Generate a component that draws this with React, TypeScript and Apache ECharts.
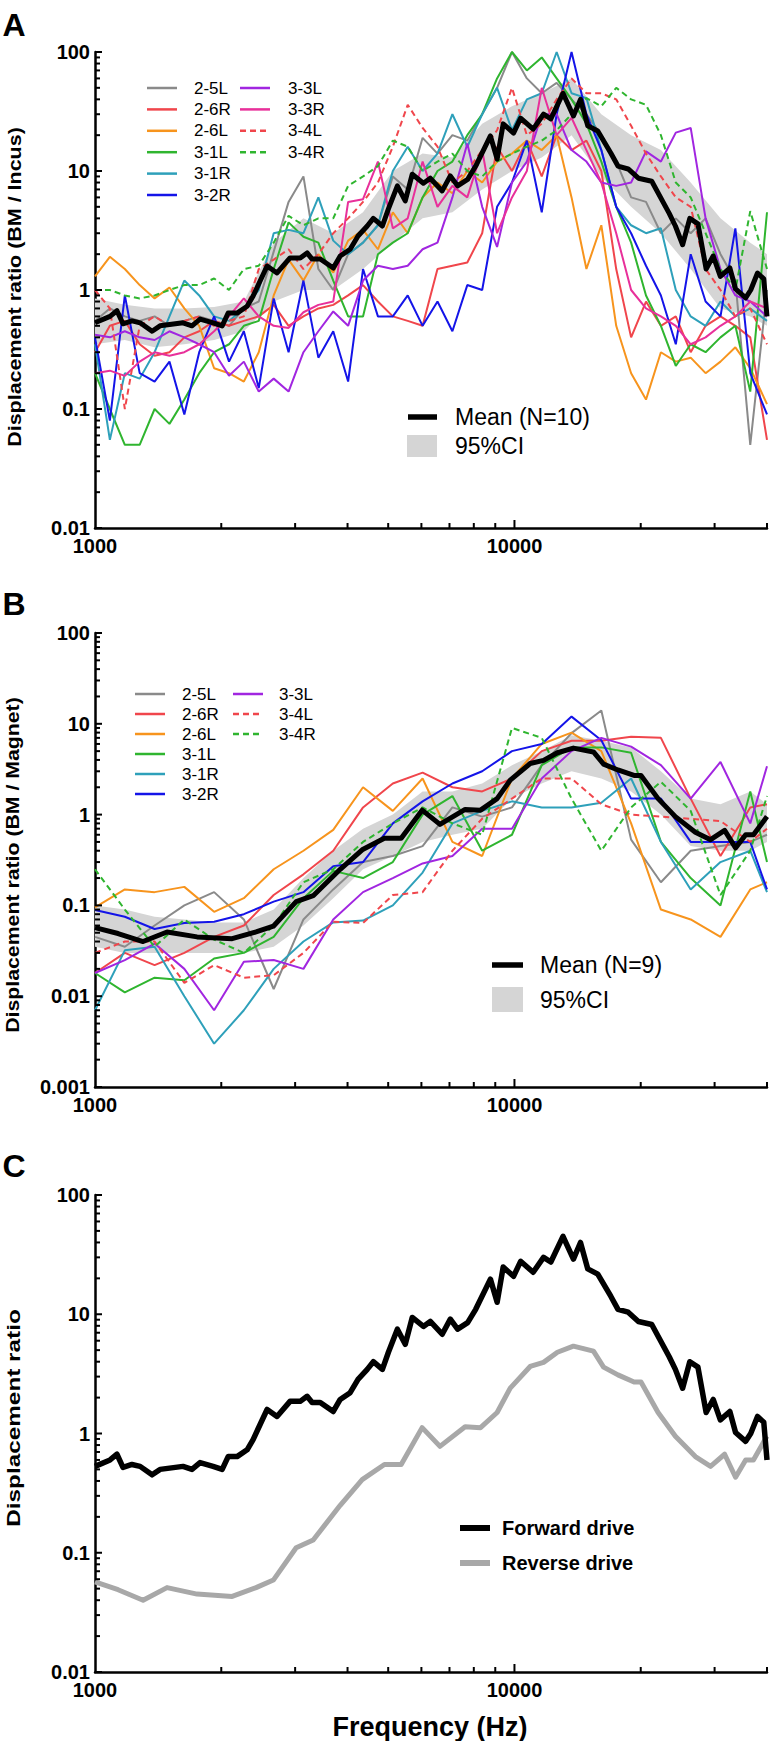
import React, { useEffect, useRef } from 'react';
import * as echarts from 'echarts';

// ---------- DATA ----------
const freqA = [1000,1085,1178,1278,1387,1505,1633,1772,1923,2087,2264,2457,2667,2894,3140,3408,3698,4013,4355,4726,5129,5566,6040,6554,7113,7719,8376,9090,9864,10704,11616,12606,13680,14845,16110,17482,18972,20588,22342,24245,26311,28552,30985,33624,36489,40000];
const freqB = [1000,1178,1387,1633,1923,2264,2667,3140,3698,4355,5129,6040,7113,8376,9864,11616,13680,16110,18972,22342,26311,30985,36489,40000];

const specimenNames = ['2-5L','2-6R','2-6L','3-1L','3-1R','3-2R','3-3L','3-3R','3-4L','3-4R'];

// Panel A: BM / Incus
const a25L = [0.55,0.7,0.6,0.55,0.6,0.5,0.55,0.6,0.55,0.5,0.7,0.8,2.1,5.5,9,1.5,1.0,2.0,2.5,3.5,9,7,19,14,20,18,30,50,100,60,45,55,40,30,20,12,6,5.5,3,4,3,4,2,1.2,0.05,1.0];
const a26R = [0.3,0.5,0.55,0.35,0.28,0.3,0.4,0.45,0.55,0.5,0.55,0.6,0.75,0.5,0.6,0.7,0.75,0.9,1.1,0.8,0.6,0.55,0.5,1.5,1.6,1.7,3,16,10,18,9,20,15,18,10,1.5,0.4,0.8,0.5,0.6,0.3,0.5,0.6,0.5,0.4,0.055];
const a26L = [1.3,1.9,1.5,1.1,0.85,1.05,0.7,0.5,0.22,0.2,0.17,0.3,0.9,1.8,1.2,2.0,1.4,2.6,3.2,2.2,4.5,3.0,6.0,8.0,6.5,10,8,12,14,18,15,20,6,1.5,3.5,0.5,0.2,0.12,0.3,0.25,0.27,0.2,0.25,0.33,0.22,0.11];
const a31L = [0.2,0.1,0.05,0.05,0.1,0.075,0.12,0.2,0.3,0.35,0.5,0.55,1.5,3.7,2.8,2.5,1.2,0.6,0.6,2.0,2.5,3,6,10,12,20,30,60,100,70,90,60,40,25,12,5,2.5,0.9,0.5,0.23,0.35,0.3,0.4,0.5,0.14,4.5];
const a31R = [0.35,0.055,0.2,0.18,0.3,0.6,1.2,0.9,0.6,0.55,0.7,1.0,3.0,3.2,3.0,6.0,2.6,2.0,2.5,3.5,10,16,10,14,30,16,30,50,22,40,45,100,45,41,15,5,3.5,3,3.3,1.0,0.6,0.5,0.8,0.6,0.7,0.55];
const a32R = [0.4,0.08,0.9,0.2,0.17,0.25,0.09,0.3,0.6,0.25,0.45,0.15,0.85,0.3,1.2,0.27,0.45,0.17,1.5,0.6,0.6,0.9,0.5,0.8,0.45,1.1,1,5,8,18,4.5,30,100,30,15,5,3,1.6,0.9,0.35,2,0.8,0.6,3.3,0.2,0.09];
const a33L = [0.42,0.4,0.45,0.4,0.38,0.45,0.4,0.35,0.3,0.19,0.25,0.14,0.18,0.14,0.3,0.45,0.66,0.5,1.2,1.6,1.5,1.6,2.2,2.5,6,17,5,2.3,8,12,30,30,15,12,8,7.5,8,14.6,12,21,23,4,1.5,0.9,0.8,0.6];
const a33R = [0.2,0.21,0.19,0.25,0.3,0.28,0.3,0.35,0.45,0.6,0.85,0.6,0.5,0.48,0.65,0.75,0.8,5.5,5.8,12,3.3,4,12,5,7.5,6,15,3,6,10,50,20,28,15,8,3,1.0,0.7,0.6,0.5,0.35,0.4,0.5,0.6,0.8,0.7];
const a34L = [1.0,0.7,0.1,0.5,0.6,0.5,0.55,0.6,0.5,0.55,0.6,1.5,1.8,2.2,1.5,2.0,3,4,5.5,8,16,36,23,16,8,10,15,22,50,20,25,40,60,45,45,40,24,14,9,6,5,1.5,1.0,0.6,0.7,0.35];
const a34R = [1.0,1.0,0.9,0.85,0.9,1.0,1.1,1.1,1.25,1.0,1.5,1.6,2.5,4.2,3.5,4,4,7.5,9,11,18,16,10,12,14,10,9,12,14,16,18,22,30,41,35,50,40,36,20,8,6,3,1.5,1.0,4.6,1.5];
const seriesA = [a25L,a26R,a26L,a31L,a31R,a32R,a33L,a33R,a34L,a34R];

// Panel B: BM / Magnet (no 3-3R)
const b25L = [0.045,0.035,0.06,0.1,0.14,0.07,0.012,0.07,0.15,0.3,0.35,0.45,1.2,0.95,1.2,3.5,7.9,14,0.53,0.18,0.4,0.45,0.5,0.6];
const b26R = [0.018,0.03,0.022,0.03,0.045,0.06,0.13,0.22,0.4,1.2,2.2,2.9,2.0,1.8,2.5,5,6.5,6.5,7.2,7.0,1.5,0.35,1.2,1.3];
const b26L = [0.095,0.15,0.14,0.16,0.085,0.12,0.25,0.4,0.68,2.0,1.1,2.5,0.5,0.35,2.5,6,8,5,0.8,0.09,0.07,0.045,0.15,0.18];
const b31L = [0.018,0.011,0.016,0.015,0.026,0.03,0.045,0.12,0.24,0.2,0.3,1.0,1.6,0.4,0.6,3.5,5.5,5.5,4.8,0.5,0.2,0.1,1.8,0.3];
const b31R = [0.007,0.032,0.035,0.01,0.003,0.007,0.02,0.04,0.065,0.068,0.1,0.23,0.8,1.1,1.4,1.2,1.2,1.35,2.5,0.5,0.15,0.3,0.4,0.14];
const b32R = [0.089,0.075,0.055,0.064,0.066,0.08,0.11,0.14,0.27,0.3,0.8,1.4,2.2,3,5,6,12,6.6,1.5,1.5,0.5,0.5,0.5,0.15];
const b33L = [0.018,0.025,0.038,0.02,0.007,0.024,0.025,0.02,0.07,0.14,0.2,0.29,0.35,0.7,0.7,2.5,5,7,5.6,3.5,1.5,3.8,0.8,3.4];
const b34L = [0.03,0.04,0.04,0.014,0.022,0.016,0.017,0.03,0.066,0.064,0.13,0.14,0.4,0.9,1.5,2.5,2.5,1.3,1.0,0.95,0.9,0.85,0.5,0.7];
const b34R = [0.25,0.09,0.035,0.07,0.042,0.03,0.06,0.18,0.25,0.5,0.8,1.2,0.8,0.6,9,7,1.5,0.4,1.2,2.3,1.1,0.13,0.4,1.6];
const seriesB = [b25L,b26R,b26L,b31L,b31R,b32R,b33L,null,b34L,b34R];

// Means (forward = A mean, reverse = B mean)
const fwdFreq = [1000,1086,1128,1166,1225,1281,1368,1429,1621,1703,1780,1912,2010,2077,2181,2305,2382,2572,2716,2917,3085,3204,3293,3443,3699,3842,4058,4237,4457,4608,4843,5006,5258,5491,5706,6066,6300,6725,7032,7319,7734,8083,8763,9093,9400,9950,10344,11082,11730,12210,13053,13822,14368,14955,15798,16980,17650,18668,19746,21247,23384,24190,25170,26180,27380,28640,29770,30960,32620,33660,35580,36580,37970,39300,40000];
const fwdVal = [0.53,0.60,0.67,0.52,0.55,0.53,0.45,0.50,0.53,0.50,0.57,0.53,0.50,0.64,0.64,0.73,0.89,1.59,1.39,1.86,1.86,2.05,1.82,1.82,1.53,1.93,2.2,2.84,3.45,4.0,3.45,4.8,7.5,5.6,9.4,7.9,8.7,6.8,9.1,7.5,8.5,11,19.7,12.6,24.9,20.8,27.8,22.5,30,27.4,45,29,40,24,21.7,14.1,11,10.4,8.7,8.2,4.4,3.45,2.4,4.0,3.6,1.5,1.93,1.3,1.53,1.02,0.86,1.0,1.39,1.24,0.6];
const revFreq = [1000,1135,1302,1485,1751,2123,2421,2662,3017,3313,3842,4335,4897,5370,6024,6644,7628,8301,9093,9770,10900,11730,12660,13820,15430,16310,17650,19280,20030,22000,24190,26990,29340,31700,33660,35580,37130,40000];
const revVal = [0.057,0.049,0.040,0.051,0.045,0.043,0.051,0.059,0.11,0.128,0.25,0.41,0.55,0.55,1.12,0.78,1.14,1.12,1.5,2.4,3.65,3.95,4.8,5.4,4.9,3.6,3.1,2.7,2.7,1.5,0.95,0.64,0.53,0.67,0.43,0.6,0.6,0.95];

// 95% CI bands (at freqB)
const ciAlo = [0.35,0.38,0.33,0.35,0.38,0.45,0.8,1.0,1.0,1.5,2.5,4,4.5,7,10,13,20,9,5,3,1.5,0.7,0.6,0.5];
const ciAhi = [0.85,0.75,0.7,0.7,0.72,0.8,2.5,4.0,3.0,4.5,10,14,13,25,35,45,60,30,20,15,8,4,2.5,2];
const ciBlo = [0.035,0.03,0.03,0.03,0.03,0.03,0.035,0.06,0.12,0.25,0.35,0.5,0.6,0.7,1.5,2.2,3,2.5,1.8,1.0,0.45,0.4,0.4,0.5];
const ciBhi = [0.1,0.09,0.075,0.07,0.065,0.065,0.09,0.2,0.4,0.7,1.0,1.8,1.8,2.2,3.5,5,7.5,6.5,5.5,3,1.5,1.3,1.8,1.3];

const xRange = [1000, 40000];
const yRanges = [[0.01, 100], [0.001, 100], [0.01, 100]];

// ---------- STYLE ----------
const FONT = '"Liberation Sans", Arial, Helvetica, sans-serif';
const colors = ['#8a8a8a','#f0464c','#f7941d','#2fb52f','#2ea0ba','#1414e8','#a126e0','#e8309a','#f0464c','#2fb52f'];
const dashed = [false,false,false,false,false,false,false,false,true,true];
const grids = [
  { left: 95, top: 52, width: 672, height: 476 },
  { left: 95, top: 633, width: 672, height: 454 },
  { left: 95, top: 1195, width: 672, height: 477 },
];

function fmtPow(v: number): string {
  const l = Math.log10(v);
  const r = Math.round(l);
  if (Math.abs(l - r) > 1e-6) return '';
  return r >= 0 ? String(Math.pow(10, r)) : Math.pow(10, r).toFixed(-r);
}

function tickValues(lo: number, hi: number) {
  const out: number[][] = [];
  for (let p = Math.floor(Math.log10(lo)); p <= Math.ceil(Math.log10(hi)); p++) {
    for (let m = 1; m <= 9; m++) {
      const v = Number((m * Math.pow(10, p)).toPrecision(6));
      if (v >= lo * 0.999999 && v <= hi * 1.000001) out.push([v, m === 1 ? 1 : 0]);
    }
  }
  return out;
}

function buildOption() {
  const xAxis: any[] = [];
  const yAxis: any[] = [];
  const series: any[] = [];
  grids.forEach((g, gi) => {
    xAxis.push({
      type: 'log', logBase: 10, gridIndex: gi, min: xRange[0], max: xRange[1],
      axisLine: { show: true, lineStyle: { color: '#000', width: 2.5 } },
      axisTick: { show: false }, splitLine: { show: false }, minorTick: { show: false },
      axisLabel: { formatter: (v: number) => fmtPow(v), fontSize: 20, lineHeight: 16, fontWeight: 'bold', color: '#000', fontFamily: FONT, margin: 10, showMaxLabel: false },
    });
    yAxis.push({
      type: 'log', logBase: 10, gridIndex: gi, min: yRanges[gi][0], max: yRanges[gi][1],
      axisLine: { show: true, lineStyle: { color: '#000', width: 2.5 } },
      axisTick: { show: false }, splitLine: { show: false },
      axisLabel: { formatter: (v: number) => fmtPow(v), fontSize: 20, lineHeight: 16, fontWeight: 'bold', color: '#000', fontFamily: FONT, margin: 5 },
    });
    // custom ticks (both inward)
    series.push({
      type: 'custom', xAxisIndex: gi, yAxisIndex: gi, silent: true, clip: false, z: 10,
      data: tickValues(xRange[0], xRange[1]).filter(t => t[0] > xRange[0]).map(t => [t[0], yRanges[gi][0], t[1]]),
      renderItem: (params: any, api: any) => {
        const p = api.coord([api.value(0), api.value(1)]);
        const L = api.value(2) ? 8 : 5;
        return { type: 'line', shape: { x1: p[0], y1: p[1], x2: p[0], y2: p[1] - L }, style: { stroke: '#000', lineWidth: 2 } };
      },
    });
    series.push({
      type: 'custom', xAxisIndex: gi, yAxisIndex: gi, silent: true, clip: false, z: 10,
      data: tickValues(yRanges[gi][0], yRanges[gi][1]).map(t => [xRange[0], t[0], t[1]]),
      renderItem: (params: any, api: any) => {
        const p = api.coord([api.value(0), api.value(1)]);
        const L = api.value(2) ? 7 : 5;
        return { type: 'line', shape: { x1: p[0], y1: p[1], x2: p[0] + L, y2: p[1] }, style: { stroke: '#000', lineWidth: 2 } };
      },
    });
  });

  const ciSeries = (gi: number, lo: number[], hi: number[]) => ({
    type: 'custom', xAxisIndex: gi, yAxisIndex: gi, silent: true, z: 1,
    data: freqB.map((f, i) => [f, lo[i], hi[i]]),
    renderItem: (params: any, api: any) => {
      if (params.dataIndex !== 0) return null;
      const top = freqB.map((f, i) => api.coord([f, hi[i]]));
      const bot = freqB.map((f, i) => api.coord([f, lo[i]])).reverse();
      return { type: 'polygon', shape: { points: top.concat(bot) }, style: { fill: '#d5d5d5' } };
    },
  });
  series.push(ciSeries(0, ciAlo, ciAhi));
  series.push(ciSeries(1, ciBlo, ciBhi));

  const indiv = (gi: number, freqs: number[], vals: number[], k: number) => ({
    type: 'line', xAxisIndex: gi, yAxisIndex: gi, name: specimenNames[k], silent: true, z: 3,
    data: freqs.map((f, i) => [f, vals[i]]), symbol: 'none', showSymbol: false,
    lineStyle: { color: colors[k], width: 2, type: dashed[k] ? [6, 4] : 'solid' },
  });
  seriesA.forEach((vals, k) => series.push(indiv(0, freqA, vals, k)));
  seriesB.forEach((vals, k) => { if (vals) series.push(indiv(1, freqB, vals, k)); });

  const meanLine = (gi: number, freqs: number[], vals: number[], color: string, width: number) => ({
    type: 'line', xAxisIndex: gi, yAxisIndex: gi, silent: true, z: 5,
    data: freqs.map((f, i) => [f, vals[i]]), symbol: 'none', showSymbol: false,
    lineStyle: { color, width, join: 'round' },
  });
  series.push(meanLine(0, fwdFreq, fwdVal, '#000', 5));
  series.push(meanLine(1, revFreq, revVal, '#000', 5));
  series.push(meanLine(2, revFreq, revVal, '#a8a8a8', 5));
  series.push(meanLine(2, fwdFreq, fwdVal, '#000', 5.5));

  // graphics
  const els: any[] = [];
  const txt = (x: number, y: number, text: string, size: number, weight: string, align = 'left', extra: any = {}) => ({
    type: 'text', x, y, silent: true, ...extra,
    style: { text, fill: '#000', fontSize: size, fontWeight: weight, fontFamily: FONT, align, verticalAlign: 'middle', textAlign: align, textVerticalAlign: 'middle' },
  });
  const seg = (x1: number, y1: number, x2: number, y2: number, stroke: string, w: number, dash?: number[]) => ({
    type: 'line', silent: true, shape: { x1, y1, x2, y2 }, style: { stroke, lineWidth: w, lineDash: dash || null },
  });
  els.push(txt(14, 25, 'A', 32, 'bold', 'center'));
  els.push(txt(14, 604, 'B', 32, 'bold', 'center'));
  els.push(txt(14, 1166, 'C', 32, 'bold', 'center'));
  els.push(txt(14, 287, 'Displacement ratio (BM / Incus)', 19, 'bold', 'center', { rotation: Math.PI / 2, scaleX: 1.13 }));
  els.push(txt(12, 865, 'Displacement ratio (BM / Magnet)', 19, 'bold', 'center', { rotation: Math.PI / 2, scaleX: 1.12 }));
  els.push(txt(13, 1418, 'Displacement ratio', 19, 'bold', 'center', { rotation: Math.PI / 2, scaleX: 1.28 }));
  els.push(txt(430, 1727, 'Frequency (Hz)', 27, 'bold', 'center'));

  // legend A
  const legA = [[0,0],[0,1],[0,2],[0,3],[0,4],[0,5],[1,0],[1,1],[1,2],[1,3]];
  specimenNames.forEach((n, k) => {
    const [c, r] = legA[k];
    const y = 88 + r * 21.4;
    const x1 = c === 0 ? 147 : 240;
    const tx = c === 0 ? 194 : 288;
    els.push(seg(x1, y, x1 + 30, y, colors[k], 2.5, dashed[k] ? [6, 4] : undefined));
    els.push(txt(tx, y, n, 17, 'normal'));
  });
  // legend B
  const legBOrder = [0,1,2,3,4,5,6,8,9];
  legBOrder.forEach((k, j) => {
    const c = j < 6 ? 0 : 1;
    const r = j < 6 ? j : j - 6;
    const y = 694 + r * 20;
    const x1 = c === 0 ? 135 : 233;
    const tx = c === 0 ? 182 : 279;
    els.push(seg(x1, y, x1 + 30, y, colors[k], 2.5, dashed[k] ? [6, 4] : undefined));
    els.push(txt(tx, y, specimenNames[k], 17, 'normal'));
  });
  // mean legends
  els.push(seg(408, 417, 437, 417, '#000', 5.5));
  els.push(txt(455, 417, 'Mean (N=10)', 23, 'normal'));
  els.push({ type: 'rect', silent: true, shape: { x: 407, y: 435, width: 30, height: 22 }, style: { fill: '#d5d5d5' } });
  els.push(txt(455, 446, '95%CI', 23, 'normal'));
  els.push(seg(492, 965, 523, 965, '#000', 5.5));
  els.push(txt(540, 965, 'Mean (N=9)', 23, 'normal'));
  els.push({ type: 'rect', silent: true, shape: { x: 492, y: 987, width: 31, height: 25 }, style: { fill: '#d5d5d5' } });
  els.push(txt(540, 1000, '95%CI', 23, 'normal'));
  // legend C
  els.push(seg(460, 1528, 490, 1528, '#000', 6));
  els.push(txt(502, 1528, 'Forward drive', 20, 'bold'));
  els.push(seg(460, 1563, 490, 1563, '#a8a8a8', 6));
  els.push(txt(502, 1563, 'Reverse drive', 20, 'bold'));

  return {
    animation: false,
    backgroundColor: '#ffffff',
    grid: grids.map(g => ({ ...g, containLabel: false })),
    xAxis, yAxis, series,
    graphic: { elements: els },
  };
}

export default function App() {
  const ref = useRef<HTMLDivElement>(null);
  useEffect(() => {
    document.body.style.margin = '0';
    const chart = echarts.init(ref.current as HTMLDivElement, null, { renderer: 'svg' });
    chart.setOption(buildOption() as any);
    return () => chart.dispose();
  }, []);
  return <div ref={ref} style={{ width: 773, height: 1741, position: 'absolute', left: 0, top: 0, background: '#fff' }} />;
}
